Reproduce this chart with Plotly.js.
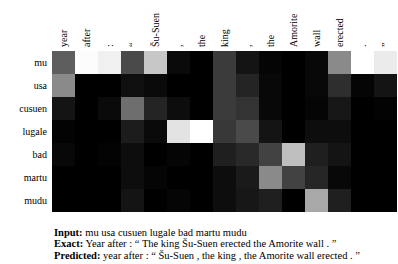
<!DOCTYPE html>
<html><head><meta charset="utf-8">
<script src="https://cdn.plot.ly/plotly-3.0.1.min.js"></script>
<style>html,body{margin:0;padding:0;background:#fff;}#c{width:398px;height:264px;}</style>
</head><body><div id="c"></div>
<script>
const colLabels = ["year","after",":","“","Šu-Suen",",","the","king",",","the","Amorite","wall","erected",".","”"];
const rowLabels = ["mu","usa","cusuen","lugale","bad","martu","mudu"];
const mu     = [0.37,0.99,0.94,0.29,0.78,0.04,0.00,0.23,0.08,0.02,0.00,0.03,0.54,1.00,0.92];
const usa    = [0.54,0.00,0.00,0.06,0.04,0.00,0.00,0.23,0.14,0.03,0.00,0.03,0.18,0.02,0.08];
const cusuen = [0.08,0.00,0.04,0.43,0.14,0.05,0.00,0.23,0.20,0.03,0.00,0.02,0.09,0.00,0.01];
const lugale = [0.01,0.00,0.00,0.11,0.04,0.89,1.00,0.22,0.29,0.08,0.00,0.05,0.05,0.00,0.00];
const bad    = [0.03,0.00,0.01,0.05,0.00,0.02,0.00,0.12,0.16,0.26,0.75,0.12,0.08,0.00,0.00];
const martu  = [0.00,0.00,0.00,0.05,0.02,0.00,0.00,0.05,0.10,0.54,0.26,0.15,0.03,0.00,0.00];
const mudu   = [0.00,0.00,0.00,0.08,0.00,0.02,0.00,0.05,0.09,0.12,0.00,0.66,0.12,0.00,0.00];
const zRows = [mu,usa,cusuen,lugale,bad,martu,mudu];
const inputText = "mu usa cusuen lugale bad martu mudu";
const exactText = "Year after : “ The king Šu-Suen erected the Amorite wall . ”";
const predText = "year after : “ Šu-Suen , the king , the Amorite wall erected . ”";

const xIdx = colLabels.map((_,i)=>i);
const yIdx = rowLabels.map((_,i)=>i);
const fam = "'Liberation Serif','Times New Roman',serif";
const font = {family:fam, size:10, color:"#000"};
const noteFont = {family:fam, size:10.5, color:"#000"};
const data = [{
  type:"heatmap", x:xIdx, y:yIdx, z:zRows, zmin:0, zmax:1,
  colorscale:[[0,"#000000"],[1,"#ffffff"]], showscale:false, hoverinfo:"skip"
}];
const layout = {
  width:398, height:264, margin:{l:52,r:1,t:51,b:52},
  paper_bgcolor:"#fff", plot_bgcolor:"#fff", font:font,
  xaxis:{side:"top", tickmode:"array", tickvals:xIdx, ticktext:colLabels, tickangle:-90,
         showgrid:false, zeroline:false, showline:false, ticks:"", ticklabelstandoff:3, tickfont:font, fixedrange:true},
  yaxis:{tickmode:"array", tickvals:yIdx, ticktext:rowLabels, autorange:"reversed",
         showgrid:false, zeroline:false, showline:false, ticks:"", ticklabelstandoff:4, tickfont:font, fixedrange:true},
  annotations:[
    {text:"<b>Input:</b> "+inputText, xref:"paper", yref:"paper", x:0, y:-0.125, xanchor:"left", yanchor:"middle", showarrow:false, font:noteFont},
    {text:"<b>Exact:</b> "+exactText, xref:"paper", yref:"paper", x:0, y:-0.198, xanchor:"left", yanchor:"middle", showarrow:false, font:noteFont},
    {text:"<b>Predicted:</b> "+predText, xref:"paper", yref:"paper", x:0, y:-0.268, xanchor:"left", yanchor:"middle", showarrow:false, font:noteFont}
  ]
};
Plotly.newPlot("c", data, layout, {displayModeBar:false, staticPlot:true});
</script></body></html>
